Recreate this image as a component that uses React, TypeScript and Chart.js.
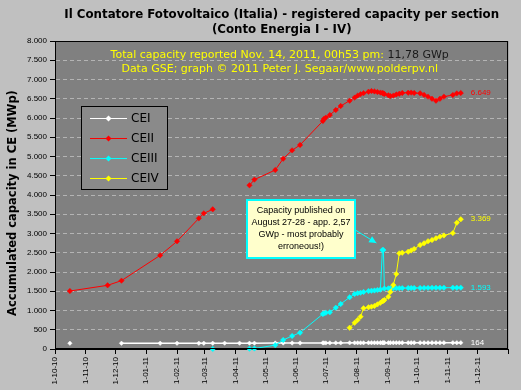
import { useEffect, useRef } from "react";
import { Chart, registerables } from "chart.js";

Chart.register(...registerables);

// ---- data (MWp per "Conto Energia" section) ----
const dates = [
  "2010-10-16", "2010-11-23", "2010-12-07", "2011-01-15", "2011-02-01", "2011-02-23",
  "2011-02-28", "2011-03-09", "2011-03-21", "2011-04-05", "2011-04-15", "2011-04-20",
  "2011-05-11", "2011-05-19", "2011-05-28", "2011-06-05", "2011-06-28", "2011-06-29",
  "2011-07-01", "2011-07-05", "2011-07-11", "2011-07-16", "2011-07-25", "2011-07-30",
  "2011-08-02", "2011-08-05", "2011-08-08", "2011-08-13", "2011-08-16", "2011-08-19",
  "2011-08-22", "2011-08-25", "2011-08-27", "2011-08-28", "2011-08-29", "2011-09-02",
  "2011-09-04", "2011-09-07", "2011-09-10", "2011-09-13", "2011-09-16", "2011-09-22",
  "2011-09-25", "2011-09-28", "2011-10-04", "2011-10-08", "2011-10-12", "2011-10-16",
  "2011-10-20", "2011-10-24", "2011-10-28", "2011-11-06", "2011-11-10", "2011-11-14",
];

const cei = [
  150, null, 150, 150, 150, 150, 150, 150, 152, 152, 152, 152,
  155, 155, 155, 156, 158, 158, 158, 158, 159, 159, 160, 160,
  160, 160, 160, 161, 161, 161, 161, 162, 162, 162, 162, 162,
  162, 162, 163, 163, 163, 163, 163, 163, 163, 163, 163, 164,
  164, 164, 164, 164, 164, 164,
];

const ceii = [
  1506, 1654, 1775, 2433, 2797, 3394, 3524, 3628, null, null, 4252, 4400,
  4649, 4943, 5160, 5299, 5922, 5974, 6010, 6078, 6208, 6312, 6450, 6530,
  6580, 6620, 6645, 6683, 6700, 6690, 6675, 6660, 6650, 6640, 6625, 6590,
  6571, 6580, 6610, 6630, 6650, 6657, 6660, 6650, 6641, 6600, 6554, 6500,
  6450, 6500, 6554, 6597, 6640, 6649,
];

const ceiii = [
  null, null, null, null, null, null, null, 0, null, null, 8, 12,
  100, 234, 338, 424, 909, 925, 940, 953, 1073, 1169, 1343, 1429,
  1450, 1463, 1480, 1506, 1514, 1520, 1532, 1545, 2570, 2570, 1570, 1575,
  1576, 1578, 1580, 1580, 1582, 1583, 1584, 1585, 1586, 1587, 1588, 1589,
  1590, 1590, 1591, 1592, 1592, 1593,
];

const ceiv = [
  null, null, null, null, null, null, null, null, null, null, null, null,
  null, null, null, null, null, null, null, null, null, null, 553, 680,
  753, 840, 1057, 1083, 1100, 1117, 1160, 1200, 1240, 1255, 1273, 1358,
  1480, 1662, 1950, 2485, 2500, 2527, 2560, 2600, 2700, 2745, 2800, 2830,
  2875, 2918, 2950, 3010, 3280, 3369,
];

const monthTicks = [
  "2010-10-01", "2010-11-01", "2010-12-01", "2011-01-01", "2011-02-01", "2011-03-01",
  "2011-04-01", "2011-05-01", "2011-06-01", "2011-07-01", "2011-08-01", "2011-09-01",
  "2011-10-01", "2011-11-01", "2011-12-01", "2012-01-01",
];

const seriesNames = ["CEI", "CEII", "CEIII", "CEIV"];
const seriesColors = ["#ffffff", "#ff0000", "#00ffff", "#ffff00"];

const titleLines = [
  "Il Contatore Fotovoltaico (Italia) - registered capacity per section",
  "(Conto Energia I - IV)",
];
const noteYellow = "Total capacity reported Nov. 14, 2011, 00h53 pm: ";
const noteBlack = "11,78 GWp";
const noteLine2 = "Data GSE; graph \u00a9 2011 Peter J. Segaar/www.polderpv.nl";
const yTitle = "Accumulated capacity in CE (MWp)";
const calloutLines = [
  "Capacity published on",
  "August 27-28 - app. 2,57",
  "GWp - most probably",
  "erroneous!)",
];
const calloutDate = "2011-08-27";

// ---- helpers ----
const ORIGIN = Date.UTC(2010, 9, 1);
function dayOf(s: string): number {
  const [y, m, d] = s.split("-").map(Number);
  return (Date.UTC(y, m - 1, d) - ORIGIN) / 86400000;
}
function fmt(n: number): string {
  return String(Math.round(n)).replace(/\B(?=(\d{3})+(?!\d))/g, ".");
}
function tickLabel(s: string): string {
  const [y, m] = s.split("-");
  return `1-${m}-${y.slice(2)}`;
}

const TICK_FONT = "'Liberation Sans', Arial, sans-serif";
const MAIN_FONT = "'DejaVu Sans', Verdana, sans-serif";

const decorPlugin = {
  id: "decor",
  beforeDraw(chart: any) {
    const { ctx, chartArea: a, width, height } = chart;
    ctx.save();
    ctx.fillStyle = "#c0c0c0";
    ctx.fillRect(0, 0, width, height);
    ctx.fillStyle = "#808080";
    ctx.fillRect(a.left, a.top, a.right - a.left, a.bottom - a.top);
    ctx.restore();
  },
  afterDatasetsDraw(chart: any) {
    const { ctx, chartArea: a } = chart;
    const xs = chart.scales.x;
    const ys = chart.scales.y;
    ctx.save();

    // end-of-series value labels
    ctx.font = `8px ${TICK_FONT}`;
    ctx.textAlign = "left";
    ctx.textBaseline = "middle";
    const all = [cei, ceii, ceiii, ceiv];
    all.forEach((vals, i) => {
      const last = vals.length - 1;
      const v = vals[last] as number;
      const px = xs.getPixelForValue(dayOf(dates[last]));
      const py = ys.getPixelForValue(v);
      ctx.fillStyle = seriesColors[i];
      ctx.fillText(fmt(v), px + 10, py);
    });

    // legend box
    const lx = a.left + 26, ly = a.top + 65, lw = 86, lh = 83;
    ctx.fillStyle = "#8a8a8a";
    ctx.fillRect(lx, ly, lw, lh);
    ctx.strokeStyle = "#000";
    ctx.lineWidth = 1;
    ctx.strokeRect(lx + 0.5, ly + 0.5, lw, lh);
    ctx.font = `12px ${MAIN_FONT}`;
    seriesNames.forEach((name, i) => {
      const ry = Math.round(ly + 11.5 + i * 20.3) + 0.5;
      ctx.strokeStyle = seriesColors[i];
      ctx.lineWidth = 1;
      ctx.beginPath();
      ctx.moveTo(lx + 9, ry);
      ctx.lineTo(lx + 46, ry);
      ctx.stroke();
      ctx.fillStyle = seriesColors[i];
      ctx.beginPath();
      const mx = lx + 27.5;
      ctx.moveTo(mx, ry - 3);
      ctx.lineTo(mx + 3, ry);
      ctx.lineTo(mx, ry + 3);
      ctx.lineTo(mx - 3, ry);
      ctx.closePath();
      ctx.fill();
      ctx.fillStyle = "#000";
      ctx.textAlign = "left";
      ctx.fillText(name, lx + 50, ry + 0.5);
    });

    // callout box + arrow anchored on the anomalous data point
    const ci = dates.indexOf(calloutDate);
    const sx = xs.getPixelForValue(dayOf(calloutDate));
    const sy = ys.getPixelForValue(ceiii[ci] as number);
    const tipX = sx - 6, tipY = sy - 7;
    const startX = tipX - 21, startY = tipY - 13;
    ctx.strokeStyle = "#00ffff";
    ctx.fillStyle = "#00ffff";
    ctx.lineWidth = 1;
    ctx.beginPath();
    ctx.moveTo(startX, startY);
    ctx.lineTo(tipX, tipY);
    ctx.stroke();
    const ang = Math.atan2(tipY - startY, tipX - startX);
    ctx.beginPath();
    ctx.moveTo(tipX, tipY);
    ctx.lineTo(tipX - 8 * Math.cos(ang - 0.45), tipY - 8 * Math.sin(ang - 0.45));
    ctx.lineTo(tipX - 8 * Math.cos(ang + 0.45), tipY - 8 * Math.sin(ang + 0.45));
    ctx.closePath();
    ctx.fill();

    const bw = 108, bh = 58;
    const bx = Math.round(startX - bw), by = Math.round(sy - 50);
    ctx.fillStyle = "#ffffcc";
    ctx.fillRect(bx, by, bw, bh);
    ctx.strokeStyle = "#00ffff";
    ctx.lineWidth = 2;
    ctx.strokeRect(bx, by, bw, bh);
    ctx.fillStyle = "#000";
    ctx.font = `9px ${TICK_FONT}`;
    ctx.textAlign = "center";
    ctx.textBaseline = "middle";
    calloutLines.forEach((t, i) => {
      ctx.fillText(t, bx + bw / 2, by + 11 + i * 11.8);
    });

    // plot frame
    ctx.strokeStyle = "#000";
    ctx.lineWidth = 1;
    ctx.strokeRect(Math.round(a.left) + 0.5, Math.round(a.top) + 0.5,
      Math.round(a.right - a.left) - 1, Math.round(a.bottom - a.top) - 1);
    ctx.restore();
  },
  afterDraw(chart: any) {
    const { ctx, chartArea: a } = chart;
    const cx = (a.left + a.right) / 2;
    ctx.save();
    ctx.textBaseline = "middle";
    ctx.textAlign = "center";
    ctx.fillStyle = "#000";
    ctx.font = `bold 11.8px ${MAIN_FONT}`;
    ctx.fillText(titleLines[0], cx, 15);
    ctx.fillText(titleLines[1], cx, 30);

    // notes inside the plot
    ctx.font = `11px ${MAIN_FONT}`;
    const w1 = ctx.measureText(noteYellow).width;
    const w2 = ctx.measureText(noteBlack).width;
    const nx = cx - 2 - (w1 + w2) / 2;
    ctx.textAlign = "left";
    ctx.fillStyle = "#ffff00";
    ctx.fillText(noteYellow, nx, a.top + 14);
    ctx.fillStyle = "#1a1a1a";
    ctx.fillText(noteBlack, nx + w1, a.top + 14);
    ctx.textAlign = "center";
    ctx.fillStyle = "#ffff00";
    ctx.fillText(noteLine2, cx - 2, a.top + 28.5);

    // y axis title
    ctx.translate(13.5, (a.top + a.bottom) / 2 + 8);
    ctx.rotate(-Math.PI / 2);
    ctx.fillStyle = "#000";
    ctx.font = `bold 11.5px ${MAIN_FONT}`;
    ctx.fillText(yTitle, 0, 0);
    ctx.restore();
  },
};

export default function App() {
  const ref = useRef<HTMLCanvasElement>(null);

  useEffect(() => {
    document.body.style.margin = "0";
    document.body.style.overflow = "hidden";
    const canvas = ref.current!;
    const series = [cei, ceii, ceiii, ceiv];
    const datasets = series.map((vals, i) => ({
      label: seriesNames[i],
      data: dates.map((d, j) => ({ x: dayOf(d), y: vals[j] })),
      borderColor: seriesColors[i],
      backgroundColor: seriesColors[i],
      borderWidth: i === 0 ? 1.5 : 1,
      pointStyle: "rectRot",
      pointRadius: i === 0 ? 2.2 : 2.7,
      pointBorderWidth: 0.5,
      pointBorderColor: seriesColors[i],
      pointBackgroundColor: seriesColors[i],
      spanGaps: false,
      tension: 0,
      clip: false,
      order: 3 - i,
    }));
    const tickDays = monthTicks.map(dayOf);

    const chart = new Chart(canvas, {
      type: "line",
      data: { datasets: datasets as any },
      options: {
        animation: false,
        responsive: false,
        devicePixelRatio: 1,
        layout: { padding: { top: 41, right: 12, left: 0, bottom: 0 } },
        plugins: {
          legend: { display: false },
          title: { display: false },
          tooltip: { enabled: false },
        },
        scales: {
          x: {
            type: "linear",
            min: tickDays[0],
            max: tickDays[tickDays.length - 1],
            afterBuildTicks: (s: any) => {
              s.ticks = tickDays.map((v) => ({ value: v }));
            },
            afterFit: (s: any) => {
              s.height = 41;
            },
            ticks: {
              autoSkip: false,
              minRotation: 90,
              maxRotation: 90,
              padding: 3,
              color: "#000",
              font: { family: TICK_FONT, size: 8 },
              callback: (v: any) => {
                const i = tickDays.indexOf(Number(v));
                if (i < 0 || i === tickDays.length - 1) return "";
                return tickLabel(monthTicks[i]);
              },
            },
            grid: {
              drawOnChartArea: false,
              drawTicks: true,
              tickLength: 5,
              tickColor: "#000",
              color: "#000",
            },
            border: { color: "#000" },
          },
          y: {
            min: 0,
            max: 8000,
            afterFit: (s: any) => {
              s.width = 55;
            },
            ticks: {
              stepSize: 500,
              padding: 3,
              color: "#000",
              font: { family: TICK_FONT, size: 8 },
              callback: (v: any) => fmt(Number(v)),
            },
            grid: {
              color: "#b4b4b4",
              tickColor: "#000",
              tickLength: 5,
              tickBorderDash: [],
            },
            border: { color: "#000", dash: [4, 3] },
          },
        },
      },
      plugins: [decorPlugin],
    });
    return () => chart.destroy();
  }, []);

  return (
    <canvas
      ref={ref}
      width={521}
      height={390}
      style={{ display: "block", width: 521, height: 390 }}
    />
  );
}
